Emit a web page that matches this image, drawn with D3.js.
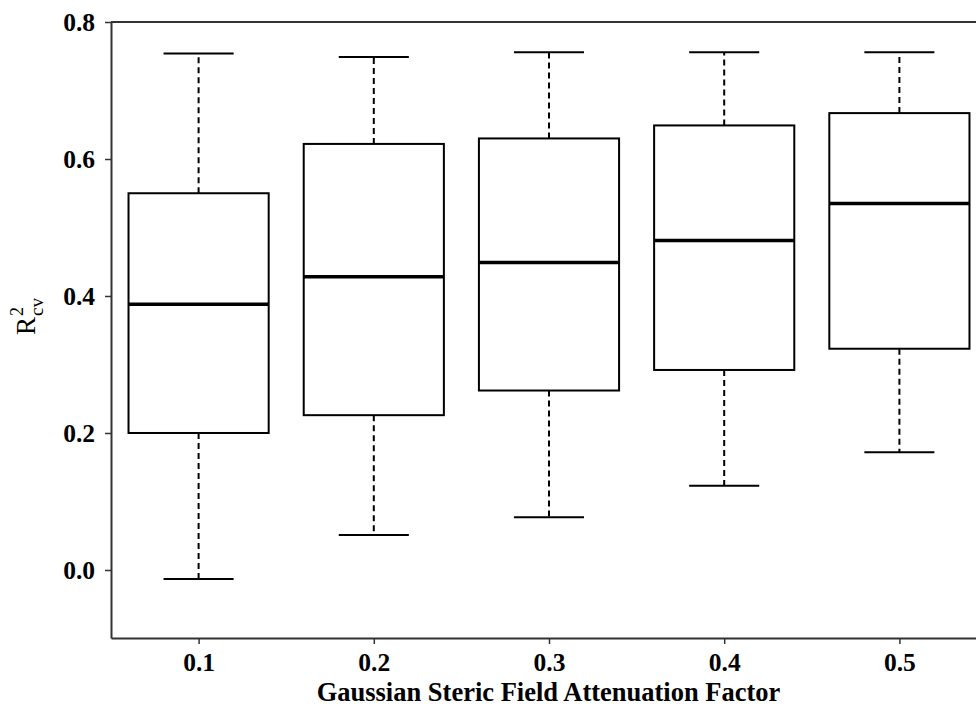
<!DOCTYPE html>
<html>
<head>
<meta charset="utf-8">
<script src="https://cdn.jsdelivr.net/npm/d3@7"></script>
<style>
  body { margin: 0; background: #fff; }
  svg { display: block; font-family: "Liberation Serif", "Times New Roman", serif; }
</style>
</head>
<body>
<svg id="boxChart"></svg>
<script>
// values
const factors = ["0.1", "0.2", "0.3", "0.4", "0.5"];
const whiskerLow = [-0.013, 0.051, 0.077, 0.123, 0.172];
const q1 = [0.200, 0.226, 0.262, 0.292, 0.323];
const median = [0.388, 0.428, 0.449, 0.481, 0.535];
const q3 = [0.550, 0.622, 0.630, 0.649, 0.667];
const whiskerHigh = [0.754, 0.749, 0.756, 0.756, 0.756];
const yTicks = [0.0, 0.2, 0.4, 0.6, 0.8];

const width = 976,
  height = 709;
const margin = { top: 22, right: -11, bottom: 71, left: 111 };

const svg = d3.select("#boxChart").attr("width", width).attr("height", height);

const boxes = factors.map((f, i) => ({
  label: f,
  pos: i + 1,
  low: whiskerLow[i],
  q1: q1[i],
  med: median[i],
  q3: q3[i],
  high: whiskerHigh[i]
}));

const x = d3
  .scaleLinear()
  .domain([0.5, factors.length + 0.5])
  .range([margin.left, width - margin.right]);

const y = d3
  .scaleLinear()
  .domain([-0.0993, 0.8])
  .range([height - margin.bottom, margin.top]);

const boxW = 0.4,
  capW = 0.2;

const g = svg.selectAll("g.box").data(boxes).enter().append("g").attr("class", "box");

// dashed whiskers
g.append("line")
  .attr("x1", (d) => x(d.pos))
  .attr("x2", (d) => x(d.pos))
  .attr("y1", (d) => y(d.q3))
  .attr("y2", (d) => y(d.high))
  .attr("stroke", "#000")
  .attr("stroke-width", 2)
  .attr("stroke-dasharray", "6,4");

g.append("line")
  .attr("x1", (d) => x(d.pos))
  .attr("x2", (d) => x(d.pos))
  .attr("y1", (d) => y(d.q1))
  .attr("y2", (d) => y(d.low))
  .attr("stroke", "#000")
  .attr("stroke-width", 2)
  .attr("stroke-dasharray", "6,4");

// caps
["low", "high"].forEach((k) => {
  g.append("line")
    .attr("x1", (d) => x(d.pos - capW))
    .attr("x2", (d) => x(d.pos + capW))
    .attr("y1", (d) => y(d[k]))
    .attr("y2", (d) => y(d[k]))
    .attr("stroke", "#000")
    .attr("stroke-width", 2);
});

// boxes
g.append("rect")
  .attr("x", (d) => x(d.pos - boxW))
  .attr("y", (d) => y(d.q3))
  .attr("width", (d) => x(d.pos + boxW) - x(d.pos - boxW))
  .attr("height", (d) => y(d.q1) - y(d.q3))
  .attr("fill", "#fff")
  .attr("stroke", "#000")
  .attr("stroke-width", 2);

// medians
g.append("line")
  .attr("x1", (d) => x(d.pos - boxW))
  .attr("x2", (d) => x(d.pos + boxW))
  .attr("y1", (d) => y(d.med))
  .attr("y2", (d) => y(d.med))
  .attr("stroke", "#000")
  .attr("stroke-width", 3.5);

// Y Axis
const yAxis = svg
  .append("g")
  .attr("transform", `translate(${margin.left},0)`)
  .call(d3.axisLeft(y).tickValues(yTicks).tickFormat(d3.format(".1f")).tickSize(6).tickPadding(10).tickSizeOuter(0));

// X Axis
const xAxis = svg
  .append("g")
  .attr("transform", `translate(0,${height - margin.bottom})`)
  .call(
    d3.axisBottom(x)
      .tickValues(boxes.map((d) => d.pos))
      .tickFormat((d) => factors[d - 1])
      .tickSize(6)
      .tickSizeOuter(0)
  );

// top frame line
svg
  .append("line")
  .attr("x1", margin.left)
  .attr("x2", width)
  .attr("y1", margin.top)
  .attr("y2", margin.top)
  .attr("stroke", "#333")
  .attr("stroke-width", 2);

[yAxis, xAxis].forEach((a) => {
  a.attr("font-size", null).attr("font-family", null);
  a.select(".domain").attr("stroke", "#333").attr("stroke-width", 2);
  a.selectAll(".tick line").attr("stroke", "#333").attr("stroke-width", 1.5);
  a.selectAll("text")
    .style("font-family", "'Liberation Serif', serif")
    .style("font-weight", "bold")
    .style("font-size", "25.5px")
    .attr("fill", "#000");
});

xAxis.selectAll(".tick text").attr("y", 33).attr("dy", 0);

// Labels
svg
  .append("text")
  .attr("x", (margin.left + width) / 2 + 5)
  .attr("y", 701)
  .attr("text-anchor", "middle")
  .style("font-weight", "bold")
  .style("font-size", "26.5px")
  .text("Gaussian Steric Field Attenuation Factor");

// R^2_cv, stacked super/subscript
const yl = svg.append("g").attr("transform", "translate(35,335) rotate(-90)");
const rText = yl.append("text").attr("x", 0).attr("y", 0).style("font-size", "27px").text("R");
const rW = rText.node().getComputedTextLength();
yl.append("text").attr("x", rW + 1).attr("y", -12).style("font-size", "18px").text("2");
yl.append("text").attr("x", rW + 1).attr("y", 8).style("font-size", "19px").text("cv");
</script>
</body>
</html>
